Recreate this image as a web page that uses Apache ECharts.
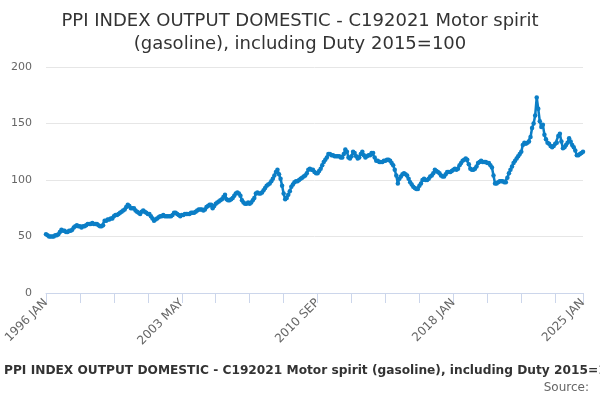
<!DOCTYPE html>
<html>
<head>
<meta charset="utf-8">
<script src="https://cdn.jsdelivr.net/npm/echarts@6/dist/echarts.min.js"></script>
<style>html,body{margin:0;padding:0;background:#fff}#c{width:600px;height:400px}</style>
</head>
<body>
<div id="c"></div>
<script>
const titleText = "PPI INDEX OUTPUT DOMESTIC - C192021 Motor spirit\n(gasoline), including Duty 2015=100";
const footerText = "PPI INDEX OUTPUT DOMESTIC - C192021 Motor spirit (gasoline), including Duty 2015=100";
const sourceText = "Source:";
const monthNames = ["JAN","FEB","MAR","APR","MAY","JUN","JUL","AUG","SEP","OCT","NOV","DEC"];
const startYear = 1996;
const yTicks = [0, 50, 100, 150, 200];

// Monthly values, 1996 JAN .. 2025 JAN
const v1996 = [52, 51, 50, 50, 50, 50, 51, 51, 52, 54, 56, 55];
const v1997 = [55, 54, 54, 55, 55, 56, 58, 59, 60, 59, 59, 58];
const v1998 = [59, 59, 60, 61, 61, 61, 62, 61, 61, 61, 60, 59];
const v1999 = [59, 60, 64, 64, 65, 65, 66, 66, 68, 69, 69, 70];
const v2000 = [71, 72, 73, 74, 76, 78, 77, 75, 75, 75, 73, 72];
const v2001 = [71, 70, 72, 73, 72, 71, 70, 70, 68, 66, 64, 65];
const v2002 = [66, 67, 68, 68, 69, 68, 68, 68, 68, 68, 69, 71];
const v2003 = [71, 70, 69, 68, 69, 69, 70, 70, 70, 70, 71, 71];
const v2004 = [71, 72, 73, 74, 74, 74, 73, 74, 76, 77, 78, 78];
const v2005 = [75, 77, 79, 80, 81, 82, 83, 85, 87, 83, 82, 82];
const v2006 = [83, 84, 86, 88, 89, 88, 86, 82, 80, 79, 79, 80];
const v2007 = [79, 80, 82, 84, 88, 89, 88, 88, 89, 91, 93, 95];
const v2008 = [96, 97, 99, 101, 104, 107, 109, 105, 101, 95, 88, 83];
const v2009 = [84, 87, 90, 94, 96, 98, 99, 99, 100, 101, 102, 103];
const v2010 = [104, 106, 109, 110, 109, 109, 107, 106, 106, 108, 110, 113];
const v2011 = [116, 118, 120, 123, 123, 122, 122, 121, 121, 121, 121, 120];
const v2012 = [120, 123, 127, 125, 120, 119, 121, 125, 124, 121, 119, 120];
const v2013 = [123, 125, 122, 120, 121, 122, 122, 124, 124, 120, 117, 117];
const v2014 = [116, 116, 116, 117, 117, 118, 118, 117, 115, 113, 109, 104];
const v2015 = [97, 101, 103, 105, 106, 105, 104, 101, 98, 96, 94, 93];
const v2016 = [92, 92, 95, 97, 100, 101, 100, 100, 101, 103, 104, 106];
const v2017 = [109, 108, 107, 106, 104, 103, 103, 105, 107, 107, 107, 108];
const v2018 = [109, 110, 109, 110, 113, 115, 117, 118, 119, 118, 114, 110];
const v2019 = [109, 109, 110, 112, 115, 116, 117, 116, 116, 116, 115, 115];
const v2020 = [113, 111, 104, 97, 97, 98, 99, 99, 99, 98, 98, 102];
const v2021 = [106, 109, 112, 115, 117, 119, 121, 123, 125, 131, 133, 132];
const v2022 = [133, 134, 138, 146, 150, 157, 173, 163, 152, 147, 149, 140];
const v2023 = [136, 133, 132, 130, 129, 130, 132, 133, 139, 141, 134, 128];
const v2024 = [129, 131, 133, 137, 134, 131, 129, 126, 122, 122, 123, 124];
const v2025 = [125];

const values = [].concat(v1996, v1997, v1998, v1999, v2000, v2001, v2002, v2003, v2004, v2005,
  v2006, v2007, v2008, v2009, v2010, v2011, v2012, v2013, v2014, v2015, v2016, v2017, v2018,
  v2019, v2020, v2021, v2022, v2023, v2024, v2025);
const categories = values.map((_, i) => (startYear + Math.floor(i / 12)) + " " + monthNames[i % 12]);
const lastIdx = categories.length - 1;

const chart = echarts.init(document.getElementById('c'), null, {renderer: 'canvas'});
const FONT = "'DejaVu Sans', sans-serif";
chart.setOption({
  animation: false,
  backgroundColor: '#ffffff',
  title: {
    text: titleText,
    left: 'center',
    top: 5,
    textStyle: {fontFamily: FONT, fontSize: 18, fontWeight: 'normal', color: '#333333', lineHeight: 23}
  },
  grid: {left: 46, right: 17, top: 67, bottom: 107, containLabel: false},
  xAxis: {
    type: 'category',
    data: categories,
    boundaryGap: false,
    axisLine: {lineStyle: {color: '#ccd6eb', width: 1}},
    axisTick: {
      show: true, length: 10, lineStyle: {color: '#ccd6eb'},
      interval: (i) => i % 22 === 0 || i === lastIdx
    },
    axisLabel: {
      interval: (i) => i % 88 === 0 || i === lastIdx,
      rotate: 45, color: '#666666', fontSize: 12, fontFamily: FONT, margin: 8
    },
    splitLine: {show: false}
  },
  yAxis: {
    type: 'value',
    min: yTicks[0], max: yTicks[yTicks.length - 1], interval: 50,
    axisLine: {show: false},
    axisTick: {show: false},
    axisLabel: {color: '#666666', fontSize: 11, fontFamily: FONT, margin: 14},
    splitLine: {lineStyle: {color: '#e6e6e6', width: 1}}
  },
  series: [{
    type: 'line',
    data: values,
    showAllSymbol: true,
    symbol: 'circle',
    symbolSize: 4.5,
    lineStyle: {color: '#0b7ec6', width: 2.5},
    itemStyle: {color: '#0b7ec6'}
  }],
  graphic: [
    {type: 'text', left: 4, top: 365, style: {text: footerText, fontFamily: FONT, fontSize: 12.2, fontWeight: 'bold', fill: '#333333'}},
    {type: 'text', right: 11, top: 382, style: {text: sourceText, fontFamily: FONT, fontSize: 12, fill: '#666666'}}
  ]
});
</script>
</body>
</html>
